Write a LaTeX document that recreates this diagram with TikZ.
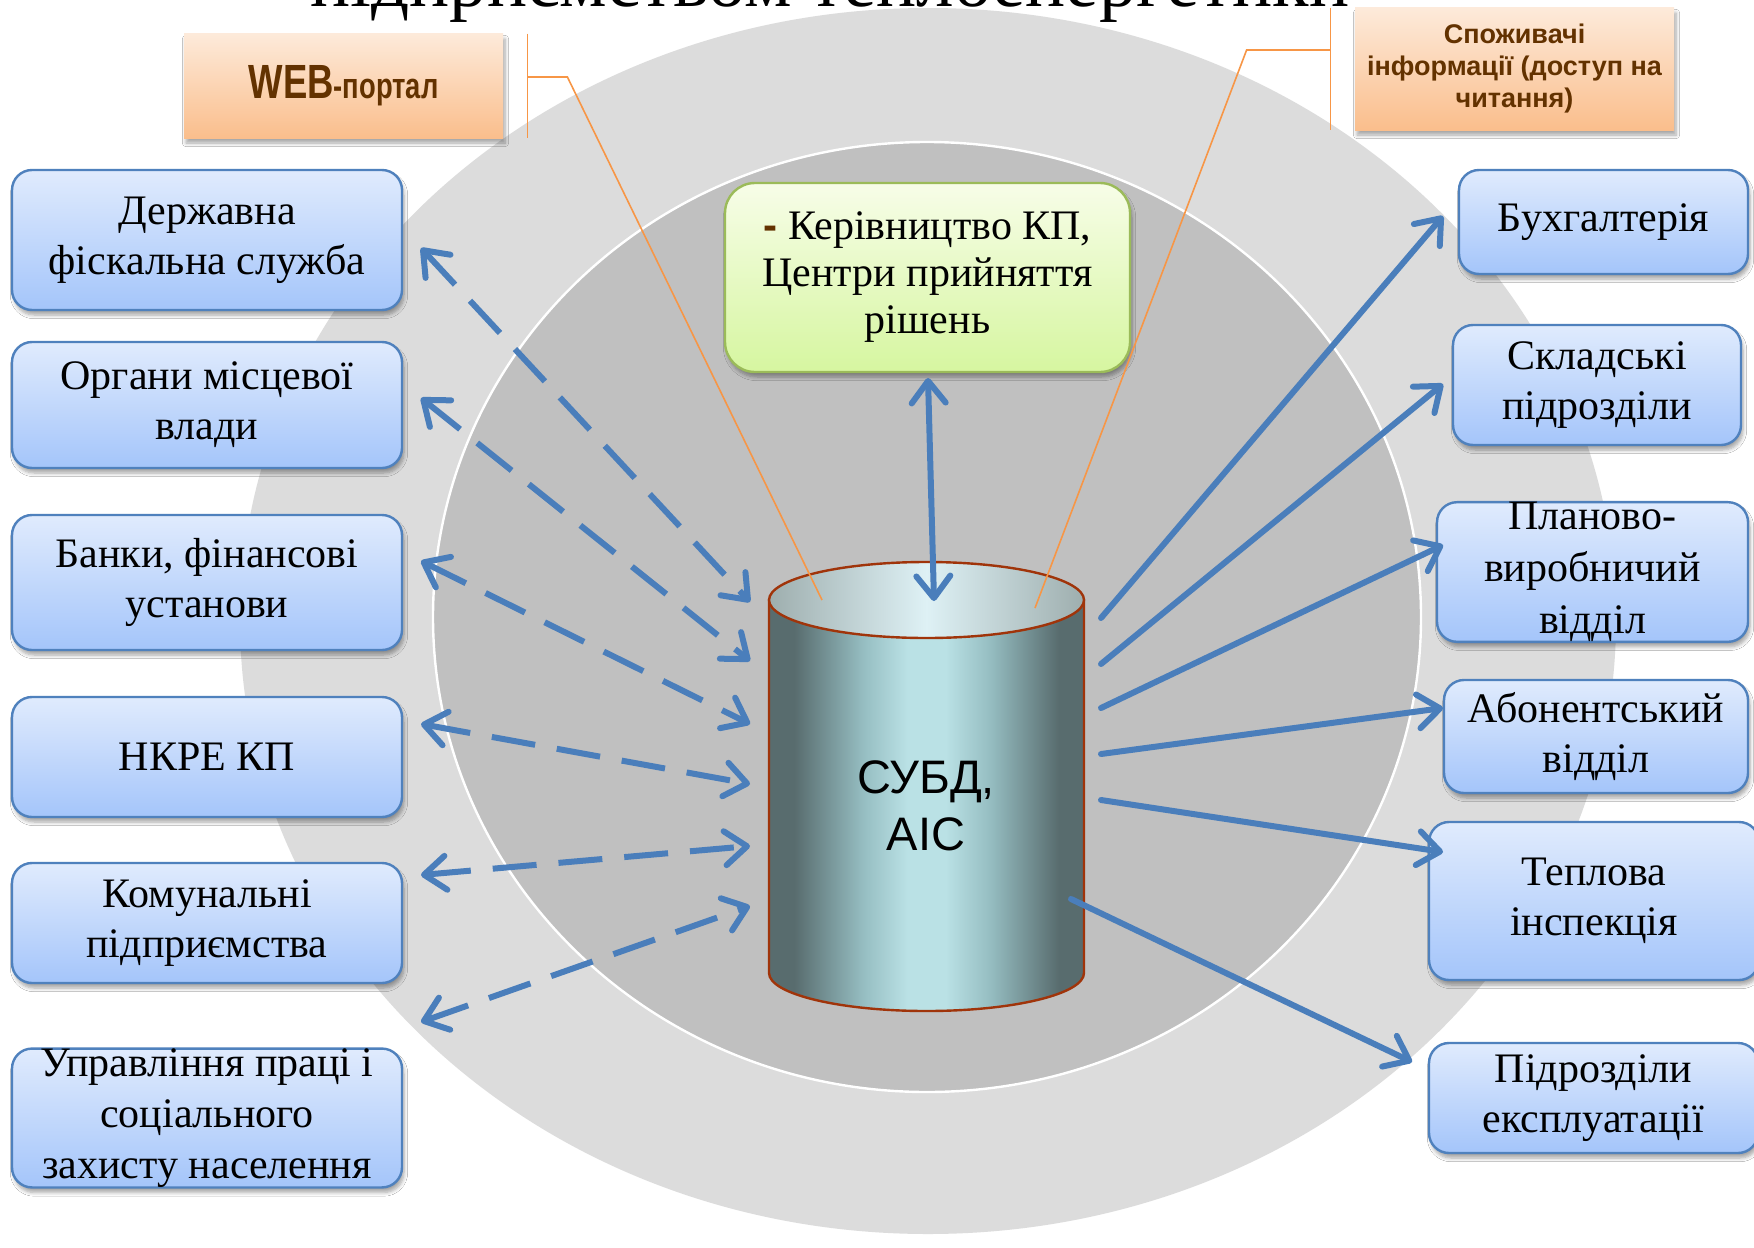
\documentclass[tikz,border=0pt]{standalone}
\usepackage{fontspec}
\setmainfont{Liberation Serif}
\newfontfamily\sansfont{Liberation Sans}
\newfontfamily\narrowfont[FakeStretch=0.76]{Liberation Sans}
\usetikzlibrary{arrows.meta,shadows.blur}

\definecolor{ring}{RGB}{220,220,220}
\definecolor{core}{RGB}{192,192,192}
\definecolor{arrowc}{RGB}{74,126,187}
\definecolor{boxline}{RGB}{79,129,189}
\definecolor{boxtop}{RGB}{224,235,253}
\definecolor{boxbot}{RGB}{164,197,250}
\definecolor{greenline}{RGB}{155,187,89}
\definecolor{greentop}{RGB}{247,253,232}
\definecolor{greenbot}{RGB}{214,246,160}
\definecolor{tagtop}{RGB}{253,234,218}
\definecolor{tagbot}{RGB}{250,190,140}
\definecolor{brn}{RGB}{99,50,0}
\definecolor{calloutc}{RGB}{247,150,70}
\definecolor{cylline}{RGB}{160,52,10}
\definecolor{cyldark}{RGB}{88,108,110}
\definecolor{cylmid}{RGB}{150,190,194}
\definecolor{cyllight}{RGB}{186,225,229}
\definecolor{capdark}{RGB}{158,174,174}
\definecolor{caplight}{RGB}{222,241,245}

\pgfdeclarehorizontalshading{cylbody}{100bp}{color(0bp)=(cyldark); color(29bp)=(cyldark); color(40bp)=(cylmid); color(47bp)=(cyllight); color(53bp)=(cyllight); color(60bp)=(cylmid); color(71bp)=(cyldark); color(100bp)=(cyldark)}
\pgfdeclarehorizontalshading{cylcap}{100bp}{color(0bp)=(capdark); color(25bp)=(capdark); color(50bp)=(caplight); color(75bp)=(capdark); color(100bp)=(capdark)}

\begin{document}
\begin{tikzpicture}[x=0.5pt, y=-0.5pt,
    >={Straight Barb[length=11pt, width=17pt, round]},
    box/.style = {draw=boxline, line width=1.2pt, rounded corners=10pt, top color=boxtop, bottom color=boxbot, align=center, inner sep=0pt, font=\fontsize{21}{25}\selectfont, blur shadow={shadow xshift=1pt, shadow yshift=-2.5pt, shadow blur steps=6, shadow opacity=35}},
    tagbox/.style = {top color=tagtop, bottom color=tagbot, align=center, inner sep=0pt, text=brn, minimum width=159.5pt, blur shadow={shadow xshift=1pt, shadow yshift=-2.5pt, shadow blur steps=6, shadow opacity=35}},
    link/.style = {draw=arrowc, line width=3pt, line cap=round, ->},
    duplex/.style = {draw=arrowc, line width=3pt, dash pattern=on 22pt off 11pt, <->},
    callout/.style = {draw=calloutc, line width=0.8pt}]
  \useasboundingbox (0,0) rectangle (1754,1247);
  \clip (0,0) rectangle (1754,1247);
  \fill[white] (0,0) rectangle (1754,1247);

  % rings
  \fill[ring] (928,621) ellipse [x radius=344pt, y radius=306.5pt];
  \filldraw[fill=core, draw=white, line width=1.2pt] (927,617) ellipse [x radius=247pt, y radius=237.5pt];

  % title, cut by the top edge
  \node[anchor=base, font=\fontsize{37.5}{45}\selectfont] (title) at (830,7) {підприємством теплоенергетики};

  % database
  \shade[shading=cylbody, draw=cylline, line width=1.2pt] (769,600) -- (769,973) arc[start angle=180, end angle=360, x radius=78.75pt, y radius=19pt] -- (1084,600) -- cycle;
  \shade[shading=cylcap, draw=cylline, line width=1.2pt] (926.5,600) ellipse [x radius=78.75pt, y radius=19pt];
  \node[font=\sansfont\fontsize{23.5}{28.5}\selectfont, align=center] (db) at (926,806) {СУБД,\\АІС};

  % top boxes
  \node[tagbox, minimum height=52pt] (web) at (343.5,86) {\narrowfont\bfseries\fontsize{24}{26}\selectfont WEB\fontsize{18}{26}\selectfont -портал};
  \node[tagbox, minimum height=61pt, font=\sansfont\bfseries\fontsize{13.5}{16}\selectfont] (users) at (1514.5,69) {Споживачі\\інформації (доступ на\\читання)};
  \node[box, draw=greenline, top color=greentop, bottom color=greenbot, rounded corners=15pt, minimum width=202.5pt, minimum height=94.5pt, font=\fontsize{21}{23.5}\selectfont] (boss) at (927.5,277.5) {{\color{brn}\sansfont\bfseries -} Керівництво КП,\\Центри прийняття\\рішень};

  % left boxes
  \node[box, minimum width=195pt, minimum height=70pt] (fisc) at (207,240) {Державна\\фіскальна служба};
  \node[box, minimum width=195pt, minimum height=63pt] (vlada) at (207,405) {Органи місцевої\\влади};
  \node[box, minimum width=195pt, minimum height=67.5pt] (bank) at (207,582.5) {Банки, фінансові\\установи};
  \node[box, minimum width=195pt, minimum height=60pt] (nkre) at (207,757) {НКРЕ КП};
  \node[box, minimum width=195pt, minimum height=60pt] (komun) at (207,923) {Комунальні\\підприємства};
  \node[box, minimum width=195pt, minimum height=66.5pt, font=\fontsize{21}{25.5}\selectfont] (social) at (207,1118) {Управління праці і\\соціального\\захисту населення};

  % right boxes
  \node[box, minimum width=144.5pt, minimum height=52pt] (buh) at (1603.5,222) {Бухгалтерія};
  \node[box, minimum width=144pt, minimum height=60pt] (sklad) at (1597,385) {Складські\\підрозділи};
  \node[box, minimum width=155.5pt, minimum height=67.5pt, font=\fontsize{21}{26}\selectfont] (plan) at (1592.5,572) {Планово-\\виробничий\\відділ};
  \node[box, minimum width=152pt, minimum height=56.5pt] (abon) at (1596,736.5) {Абонентський\\відділ};
  \node[box, minimum width=165pt, minimum height=79pt] (tepl) at (1594,901) {Теплова\\інспекція};
  \node[box, minimum width=164.5pt, minimum height=55pt] (pidr) at (1593.5,1098) {Підрозділи\\експлуатації};

  % call-outs
  \coordinate (webend) at (822,600);
  \coordinate (userend) at (1035,608);
  \draw[callout] ([xshift=12pt]web.north east) -- ([xshift=12pt]web.south east);
  \draw[callout] ([xshift=12pt, yshift=4.5pt]web.east) -- ++(20pt,0) -- (webend);
  \draw[callout] ([xshift=-12pt]users.north west) -- ([xshift=-12pt]users.south west);
  \draw[callout] ([xshift=-12pt, yshift=9.5pt]users.west) -- ++(-42pt,0) -- (userend);

  % arrow ends
  \coordinate (fisc-e) at (421,248);
  \coordinate (vlada-e) at (421,398);
  \coordinate (bank-e) at (421,561);
  \coordinate (nkre-e) at (421,724);
  \coordinate (komun-e) at (421,875);
  \coordinate (social-e) at (421,1022);
  \coordinate (db-w1) at (750,602);
  \coordinate (db-w2) at (750,661);
  \coordinate (db-w3) at (750,724);
  \coordinate (db-w4) at (750,784);
  \coordinate (db-w5) at (750,846);
  \coordinate (db-w6) at (750,906);
  \coordinate (buh-e) at (1443,216);
  \coordinate (sklad-e) at (1443,384);
  \coordinate (plan-e) at (1443,545);
  \coordinate (abon-e) at (1443,708);
  \coordinate (tepl-e) at (1443,852);
  \coordinate (pidr-e) at (1412,1062);
  \coordinate (db-e1) at (1101,618);
  \coordinate (db-e2) at (1101,664);
  \coordinate (db-e3) at (1101,708);
  \coordinate (db-e4) at (1101,754);
  \coordinate (db-e5) at (1101,800);
  \coordinate (db-e6) at (1071,899);
  \coordinate (boss-e) at (928,378);
  \coordinate (db-n) at (934,601);

  % arrows
  \draw[duplex] (fisc-e) -- (db-w1);
  \draw[duplex] (vlada-e) -- (db-w2);
  \draw[duplex] (bank-e) -- (db-w3);
  \draw[duplex] (nkre-e) -- (db-w4);
  \draw[duplex] (komun-e) -- (db-w5);
  \draw[duplex] (social-e) -- (db-w6);
  \draw[link, <->] (boss-e) -- (db-n);
  \draw[link] (db-e1) -- (buh-e);
  \draw[link] (db-e2) -- (sklad-e);
  \draw[link] (db-e3) -- (plan-e);
  \draw[link] (db-e4) -- (abon-e);
  \draw[link] (db-e5) -- (tepl-e);
  \draw[link] (db-e6) -- (pidr-e);
\end{tikzpicture}
\end{document}
